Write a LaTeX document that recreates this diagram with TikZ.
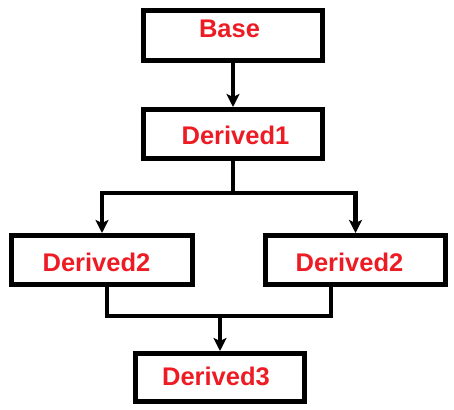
\documentclass[tikz,border=0pt]{standalone}
\usepackage{fontspec}
\setmainfont{Liberation Sans}
\usetikzlibrary{arrows.meta}
\definecolor{lblred}{HTML}{ED1C24}
\tikzset{
  classbox/.style={draw=black, line width=5pt, inner sep=0pt, fill=white},
  lbl/.style={text=lblred, font=\bfseries\fontsize{25.5}{30}\selectfont, anchor=base, inner sep=0pt},
  conn/.style={draw=black, line width=4.5pt},
  arr/.style={conn, -{Stealth[width=13pt,length=13pt,inset=3pt]}}
}
\begin{document}
\begin{tikzpicture}[x=1pt,y=-1pt]
\useasboundingbox[fill=white] (0,0) rectangle (454,409);
% boxes
\node[classbox, minimum width=179pt, minimum height=50pt] (base) at (233,35.5) {};
\node[classbox, minimum width=179pt, minimum height=49pt] (d1) at (233,134) {};
\node[classbox, minimum width=181pt, minimum height=49pt] (d2l) at (102,260) {};
\node[classbox, minimum width=180pt, minimum height=49pt] (d2r) at (355.5,260) {};
\node[classbox, minimum width=169pt, minimum height=48pt] (d3) at (220,377.5) {};
% labels
\node[lbl] (tbase) at (229.5,38) {Base};
\node[lbl] (td1) at (235.5,144) {Derived1};
\node[lbl] (td2l) at (96.5,271) {Derived2};
\node[lbl] (td2r) at (349.5,271) {Derived2};
\node[lbl] (td3) at (216,385) {Derived3};
% junctions
\coordinate (j1) at (233,193);
\coordinate (bl) at (107,316);
\coordinate (br) at (331,316);
\coordinate (m) at (220,316);
% connectors
\draw[arr] (base.south) -- (d1.north);
\draw[conn] (d1.south) -- (j1);
\draw[arr] (j1) -| (d2l.north);
\draw[arr] (j1) -| (d2r.north);
\draw[conn] (bl |- d2l.south) -- (bl) -- (br) -- (br |- d2r.south);
\draw[arr] (m) -- (m |- d3.north);
\end{tikzpicture}
\end{document}
